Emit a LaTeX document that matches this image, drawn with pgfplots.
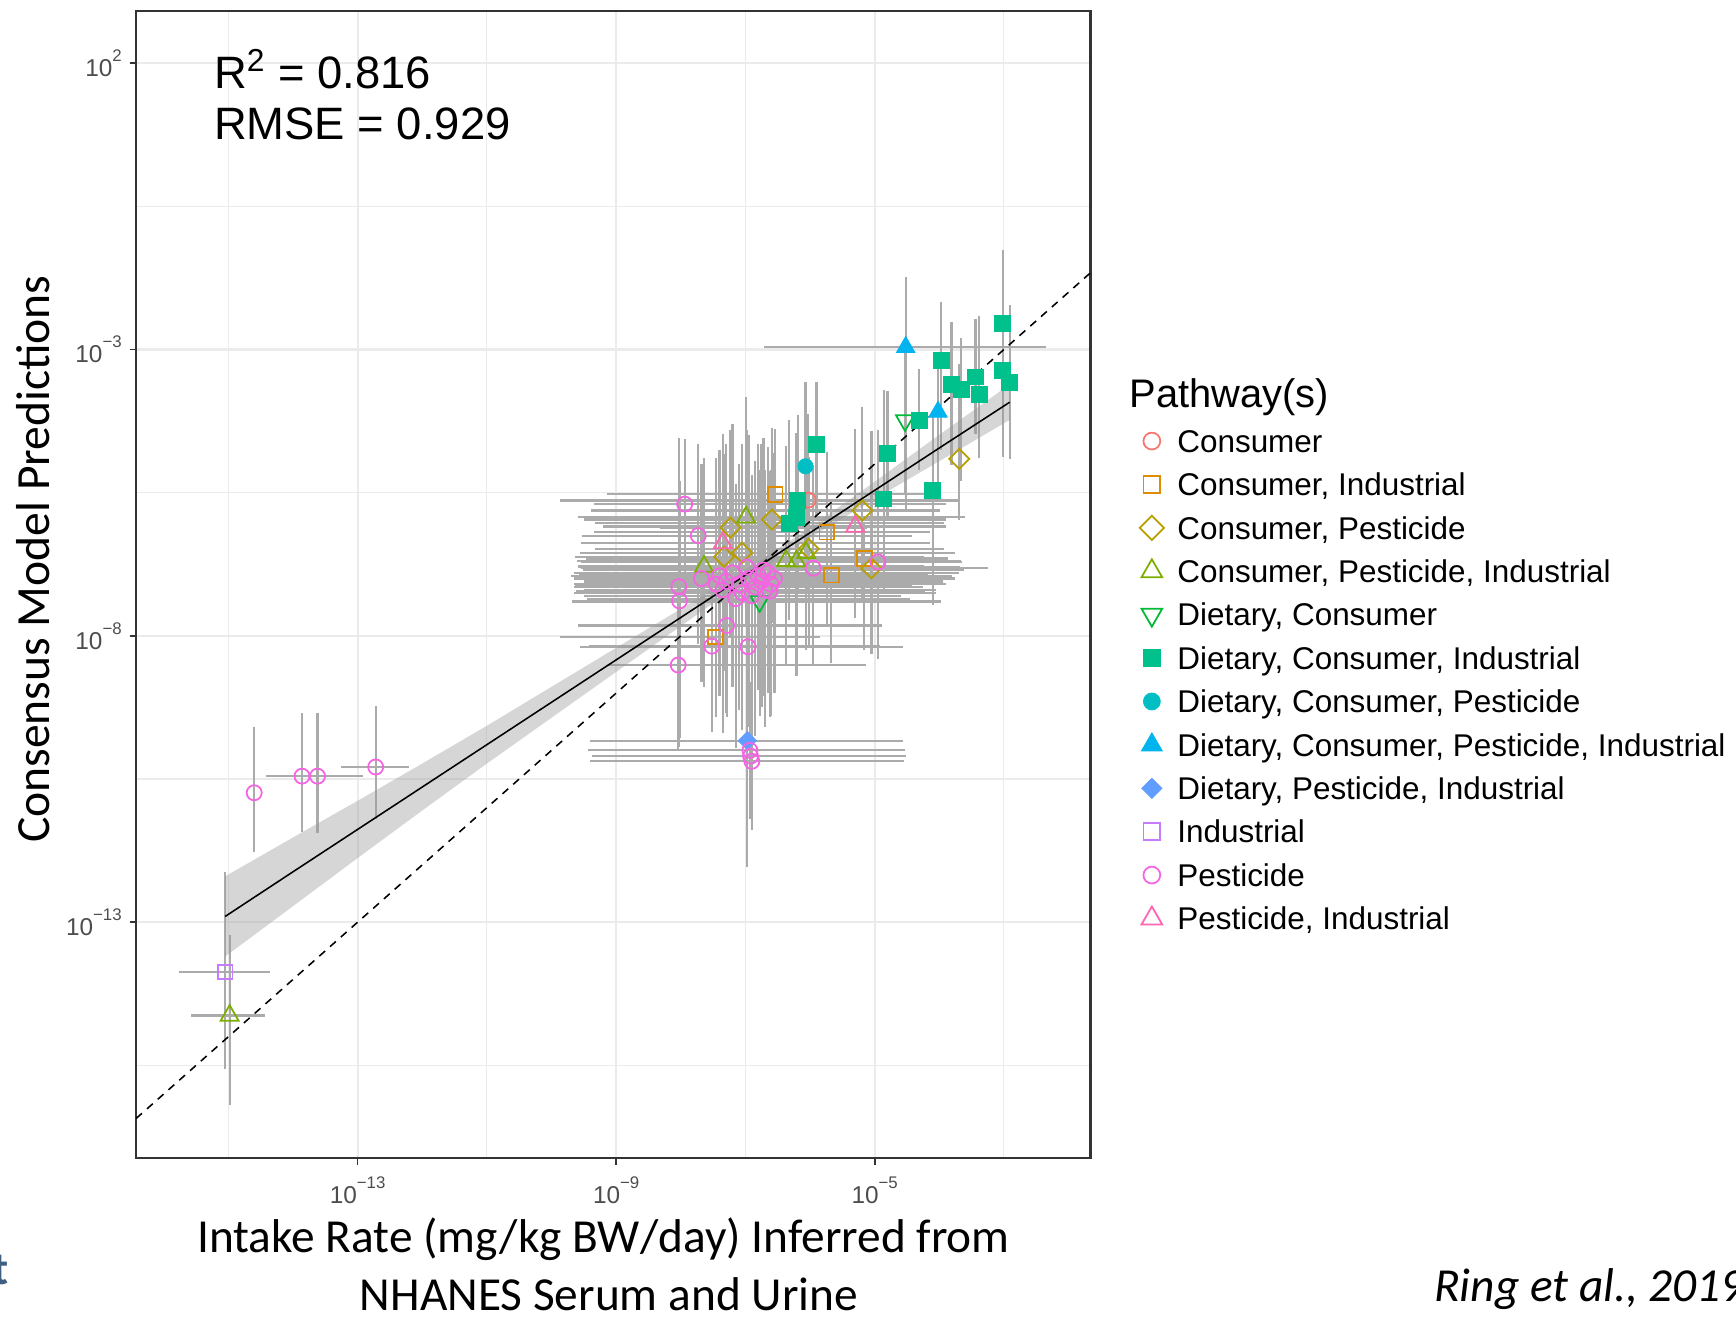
\documentclass[border=0pt]{standalone}
\usepackage{fontspec}
\setmainfont{Liberation Sans}
\newfontfamily\carlito{Carlito}
\usepackage{pgfplots}
\pgfplotsset{compat=1.18}
\usepackage{pgfplotstable}

\definecolor{cCons}{HTML}{F8766D}
\definecolor{cCI}{HTML}{DE8C00}
\definecolor{cCP}{HTML}{B79F00}
\definecolor{cCPI}{HTML}{7CAE00}
\definecolor{cDC}{HTML}{00BA38}
\definecolor{cDCI}{HTML}{00C08B}
\definecolor{cDCP}{HTML}{00BFC4}
\definecolor{cDCPI}{HTML}{00B4F0}
\definecolor{cDPI}{HTML}{619CFF}
\definecolor{cInd}{HTML}{C77CFF}
\definecolor{cPest}{HTML}{F564E3}
\definecolor{cPI}{HTML}{FF64B0}
\definecolor{ebar}{HTML}{ABABAB}
\definecolor{gridc}{HTML}{EBEBEB}
\definecolor{framec}{HTML}{333333}
\definecolor{ticktext}{HTML}{4D4D4D}
\definecolor{slate}{HTML}{3E5F82}
\definecolor{ribbon}{HTML}{999999}

% columns: log10 x, log10 y, x error minus/plus, y error minus/plus (decades)
\pgfplotstableread{
x y xm xp ym yp
-6.03 -5.63 3.84 2.35 1.60 1.50
}\tCons
\pgfplotstableread{
x y xm xp ym yp
-6.54 -5.53 2.60 2.30 1.50 1.15
-5.74 -6.19 3.60 1.60 1.60 1.40
-5.67 -6.94 3.90 1.50 1.54 1.30
-5.16 -6.65 4.30 1.30 1.60 0.60
-7.46 -8.02 2.41 1.61 1.40 1.50
}\tCI
\pgfplotstableread{
x y xm xp ym yp
-6.59 -5.97 2.90 2.70 1.80 1.60
-7.23 -6.11 1.09 2.11 1.90 1.70
-7.33 -6.62 2.30 3.10 2.00 1.80
-7.05 -6.55 2.50 3.30 1.80 1.90
-6.02 -6.48 3.30 2.10 1.70 1.60
-5.19 -5.81 4.20 1.20 1.60 1.80
-5.05 -6.82 4.50 1.80 1.50 2.40
-3.69 -4.91 0.00 0.00 1.07 1.66
}\tCP
\pgfplotstableread{
x y xm xp ym yp
-6.99 -5.93 2.60 2.90 1.90 2.10
-7.64 -6.79 1.95 3.40 2.10 1.90
-6.37 -6.69 3.20 2.70 1.80 2.00
-6.21 -6.70 3.40 2.50 2.00 1.70
-6.06 -6.55 3.50 2.20 1.70 1.80
-14.98 -14.63 0.60 0.55 1.56 1.40
}\tCPI
\pgfplotstableread{
x y xm xp ym yp
-4.53 -4.24 0.00 0.00 1.30 1.20
-6.78 -7.40 2.90 2.80 2.00 2.30
}\tDC
\pgfplotstableread{
x y xm xp ym yp
-5.90 -4.665 0.00 0.00 1.30 1.10
-6.19 -5.64 3.68 2.51 1.60 1.50
-6.32 -6.03 3.00 2.40 1.70 1.80
-6.21 -5.93 3.20 2.60 1.60 1.48
-4.80 -4.82 0.00 0.00 1.11 1.10
-4.86 -5.61 0.00 0.00 1.60 1.90
-4.10 -5.46 0.00 0.00 2.00 1.40
-4.31 -4.24 0.00 0.00 0.87 0.90
-3.97 -3.19 0.00 0.00 1.57 1.02
-3.81 -3.61 0.00 0.00 1.40 1.09
-3.66 -3.70 0.00 0.00 1.60 0.90
-3.44 -3.48 0.00 0.00 0.99 1.01
-3.38 -3.79 0.00 0.00 1.11 1.38
-3.02 -2.54 0.00 0.00 2.34 1.27
-3.02 -3.37 0.00 0.00 1.51 1.14
-2.91 -3.57 0.00 0.00 1.34 1.34
}\tDCI
\pgfplotstableread{
x y xm xp ym yp
-6.07 -5.04 0.00 0.00 1.50 1.47
}\tDCP
\pgfplotstableread{
x y xm xp ym yp
-4.52 -2.96 2.20 2.17 2.85 1.22
-4.02 -4.09 0.00 0.00 1.50 0.80
}\tDCPI
\pgfplotstableread{
x y xm xp ym yp
-6.97 -9.83 2.43 2.41 2.20 1.60
}\tDPI
\pgfplotstableread{
x y xm xp ym yp
-15.05 -13.87 0.71 0.70 1.69 1.75
}\tInd
\pgfplotstableread{
x y xm xp ym yp
-14.60 -10.74 0.00 0.00 1.04 1.15
-13.86 -10.45 0.55 0.54 0.98 1.10
-13.62 -10.45 0.40 0.70 1.00 1.10
-12.72 -10.29 0.54 0.52 0.90 1.07
-7.94 -5.70 1.40 4.05 1.60 1.14
-7.73 -6.25 1.80 3.30 1.90 1.60
-7.68 -7.00 1.90 3.50 1.80 2.00
-8.03 -7.14 1.60 3.60 2.80 2.60
-8.02 -7.39 1.50 3.20 2.40 2.10
-5.95 -6.82 3.60 1.90 1.70 1.80
-4.95 -6.71 4.60 1.30 1.70 2.30
-7.29 -7.82 2.30 2.40 1.60 1.50
-7.52 -8.18 1.90 2.60 1.50 1.40
-6.96 -8.19 2.60 2.40 1.40 1.30
-8.04 -8.51 1.10 2.90 1.50 1.40
-6.93 -10.00 2.50 2.40 1.00 1.20
-6.92 -10.10 2.45 2.40 1.10 1.10
-6.90 -10.19 2.50 2.35 1.20 1.00
-7.40 -6.95 2.30 3.40 2.10 2.20
-7.30 -7.05 2.20 3.10 2.30 2.40
-7.20 -6.90 2.40 3.50 2.00 2.60
-7.10 -7.10 2.50 2.90 2.20 2.10
-7.35 -7.20 2.10 3.30 2.50 2.30
-7.05 -7.25 2.60 3.00 2.40 2.20
-6.95 -7.00 2.70 3.20 2.10 2.50
-6.85 -7.15 2.80 2.60 2.60 2.20
-6.80 -6.95 2.90 3.00 2.00 2.30
-6.75 -7.05 2.70 2.80 2.20 2.40
-6.70 -7.20 2.80 2.50 2.40 2.10
-6.65 -6.90 3.00 2.90 2.10 2.20
-6.60 -7.10 2.90 2.70 2.30 2.00
-6.55 -7.00 3.10 2.60 2.00 2.20
-6.72 -6.85 2.80 3.10 2.20 2.30
-6.90 -7.30 2.60 2.30 2.50 2.10
-7.15 -7.35 2.30 2.70 2.60 2.00
-6.62 -7.22 3.00 2.40 2.20 2.10
-7.45 -7.10 2.20 3.00 2.30 2.20
-6.98 -6.80 2.50 3.30 2.00 2.40
}\tPest
\pgfplotstableread{
x y xm xp ym yp
-7.35 -6.38 2.20 3.20 1.80 1.91
-5.30 -6.09 3.90 1.40 1.60 1.70
}\tPI

\pgfplotsset{
  ebplot/.style={draw=none, mark=none, forget plot,
    error bars/.cd, x dir=both, x explicit, y dir=both, y explicit,
    error mark=none, error bar style={draw=ebar, line width=1.0pt}},
  openmk/.style={only marks, line width=0.8pt, forget plot, mark options={solid, fill=none}},
  fillmk/.style={only marks, line width=0.4pt, forget plot, mark options={solid}},
}
\newcommand\eb[1]{\addplot[ebplot] table[x=x,y=y,x error plus=xp,x error minus=xm,y error plus=yp,y error minus=ym]{#1};}
\newcommand\tl[1]{10\raisebox{0.62em}{\fontsize{7.6}{8}\selectfont #1}}

\begin{document}
\begin{tikzpicture}
\path[use as bounding box] (0,0) rectangle (784pt,596pt);
\begin{axis}[
  at={(61.5pt,73pt)}, anchor=south west,
  scale only axis, width=431pt, height=518pt,
  xmin=-16.426, xmax=-1.660, ymin=-17.118, ymax=2.909,
  xtick={-13,-9,-5},
  xticklabels={{\tl{−13}},{\tl{−9}},{\tl{−5}}},
  minor xtick={-15,-11,-7,-3},
  ytick={2,-3,-8,-13},
  yticklabels={{\tl{2}},{\tl{−3}},{\tl{−8}},{\tl{−13}}},
  minor ytick={-0.5,-5.5,-10.5,-15.5},
  tick pos=left,
  grid=both,
  major grid style={draw=gridc, line width=1pt},
  minor grid style={draw=gridc, line width=0.5pt},
  axis line style={draw=framec, line width=1pt},
  tick align=outside, major tick length=3pt, minor tick length=0pt,
  tick style={draw=framec, line width=0.8pt},
  xticklabel style={font=\fontsize{11}{12}\selectfont, text=ticktext, yshift=-2pt},
  yticklabel style={font=\fontsize{11}{12}\selectfont, text=ticktext},
  legend style={at={(1.0510,0.6444)}, anchor=north west, draw=none, fill=none,
    font=\fontsize{14.2}{17}\selectfont, inner sep=0pt, row sep=0pt,
    nodes={inner xsep=6pt, inner ysep=0pt, text height=14.9pt, text depth=4.7pt}},
  legend cell align=left,
]
\eb{\tCons}\eb{\tCI}\eb{\tCP}\eb{\tCPI}\eb{\tDC}\eb{\tDCI}
\eb{\tDCP}\eb{\tDCPI}\eb{\tDPI}\eb{\tInd}\eb{\tPest}\eb{\tPI}

% confidence ribbon of the fit
\addplot[draw=none, fill=ribbon, fill opacity=0.4, forget plot] coordinates {
(-15.05,-12.20) (-14,-11.52) (-13,-10.88) (-12,-10.23) (-11,-9.57) (-10,-8.89)
(-9,-8.21) (-8,-7.53) (-7,-6.85) (-6,-6.11) (-5,-5.31) (-4,-4.49) (-2.91,-3.61)
(-2.91,-4.23) (-4,-4.95) (-5,-5.61) (-6,-6.29) (-7,-7.03) (-8,-7.83) (-9,-8.63)
(-10,-9.43) (-11,-10.23) (-12,-11.05) (-13,-11.88) (-14,-12.72) (-15.05,-13.60)
} -- cycle;

\addplot[openmk, mark=o, mark size=3.4pt, cCons] table[x=x,y=y]{\tCons};
\addplot[openmk, mark=square, mark size=3.3pt, cCI] table[x=x,y=y]{\tCI};
\addplot[openmk, mark=square, mark size=3.2pt, mark options={rotate=45}, cCP] table[x=x,y=y]{\tCP};
\addplot[openmk, mark=triangle, mark size=4.7pt, cCPI] table[x=x,y=y]{\tCPI};
\addplot[openmk, mark=triangle, mark size=4.7pt, mark options={rotate=180}, cDC] table[x=x,y=y]{\tDC};
\addplot[fillmk, mark=square*, mark size=3.6pt, cDCI, mark options={fill=cDCI}] table[x=x,y=y]{\tDCI};
\addplot[fillmk, mark=*, mark size=3.4pt, cDCP, mark options={fill=cDCP}] table[x=x,y=y]{\tDCP};
\addplot[fillmk, mark=triangle*, mark size=4.8pt, cDCPI, mark options={fill=cDCPI}] table[x=x,y=y]{\tDCPI};
\addplot[fillmk, mark=square*, mark size=2.9pt, cDPI, mark options={fill=cDPI, rotate=45}] table[x=x,y=y]{\tDPI};
\addplot[openmk, mark=square, mark size=3.3pt, cInd] table[x=x,y=y]{\tInd};
\addplot[openmk, mark=o, mark size=3.4pt, cPest] table[x=x,y=y]{\tPest};
\addplot[openmk, mark=triangle, mark size=4.7pt, cPI] table[x=x,y=y]{\tPI};

% legend keys
\addlegendimage{only marks, line width=0.8pt, mark=o, mark size=3.8pt, cCons}
\addlegendentry{Consumer}
\addlegendimage{only marks, line width=0.8pt, mark=square, mark size=3.8pt, cCI}
\addlegendentry{Consumer, Industrial}
\addlegendimage{only marks, line width=0.8pt, mark=square, mark size=3.9pt, mark options={rotate=45}, cCP}
\addlegendentry{Consumer, Pesticide}
\addlegendimage{only marks, line width=0.8pt, mark=triangle, mark size=5.4pt, cCPI}
\addlegendentry{Consumer, Pesticide, Industrial}
\addlegendimage{only marks, line width=0.8pt, mark=triangle, mark size=5.4pt, mark options={rotate=180}, cDC}
\addlegendentry{Dietary, Consumer}
\addlegendimage{only marks, line width=0.4pt, mark=square*, mark size=4.0pt, cDCI, mark options={fill=cDCI}}
\addlegendentry{Dietary, Consumer, Industrial}
\addlegendimage{only marks, line width=0.4pt, mark=*, mark size=3.8pt, cDCP, mark options={fill=cDCP}}
\addlegendentry{Dietary, Consumer, Pesticide}
\addlegendimage{only marks, line width=0.4pt, mark=triangle*, mark size=5.4pt, cDCPI, mark options={fill=cDCPI}}
\addlegendentry{Dietary, Consumer, Pesticide, Industrial}
\addlegendimage{only marks, line width=0.4pt, mark=square*, mark size=3.2pt, cDPI, mark options={fill=cDPI, rotate=45}}
\addlegendentry{Dietary, Pesticide, Industrial}
\addlegendimage{only marks, line width=0.8pt, mark=square, mark size=3.8pt, cInd}
\addlegendentry{Industrial}
\addlegendimage{only marks, line width=0.8pt, mark=o, mark size=3.8pt, cPest}
\addlegendentry{Pesticide}
\addlegendimage{only marks, line width=0.8pt, mark=triangle, mark size=5.4pt, cPI}
\addlegendentry{Pesticide, Industrial}

% fitted line
\addplot[black, line width=0.7pt, forget plot] coordinates {
(-15.05,-12.90) (-14,-12.12) (-13,-11.38) (-12,-10.64) (-11,-9.90) (-10,-9.16)
(-9,-8.42) (-8,-7.68) (-7,-6.94) (-6,-6.20) (-5,-5.46) (-4,-4.72) (-2.91,-3.92)};
% identity line
\addplot[black, line width=0.7pt, dash pattern=on 3.5pt off 3pt, forget plot] coordinates {
(-16.426,-16.426) (-1.66,-1.66)};
\end{axis}

\node[anchor=base west, inner sep=0, font=\fontsize{20.5}{24}\selectfont] at (96.5pt,556pt) {R\textsuperscript{2} = 0.816};
\node[anchor=base west, inner sep=0, font=\fontsize{20.5}{24}\selectfont] at (96.5pt,533pt) {RMSE = 0.929};
\node[anchor=base west, inner sep=0, font=\fontsize{18}{21}\selectfont] at (510pt,412pt) {Pathway(s)};
\node[rotate=90, inner sep=0, font=\carlito\fontsize{21.5}{25}\selectfont] at (15pt,343.5pt) {Consensus Model Predictions};
\node[anchor=base, inner sep=0, font=\carlito\fontsize{21.4}{25}\selectfont] at (272.5pt,30.5pt) {Intake Rate (mg/kg BW/day) Inferred from};
\node[anchor=base, inner sep=0, font=\carlito\fontsize{21.4}{25}\selectfont] at (275pt,4pt) {NHANES Serum and Urine};
\node[anchor=base west, inner sep=0, font=\carlito\itshape\fontsize{21.4}{25}\selectfont] at (647.5pt,8pt) {Ring et al., 2019};
\node[anchor=base east, inner sep=0, text=slate, font=\carlito\bfseries\fontsize{21}{25}\selectfont] at (4pt,16pt) {t};
\end{tikzpicture}
\end{document}
